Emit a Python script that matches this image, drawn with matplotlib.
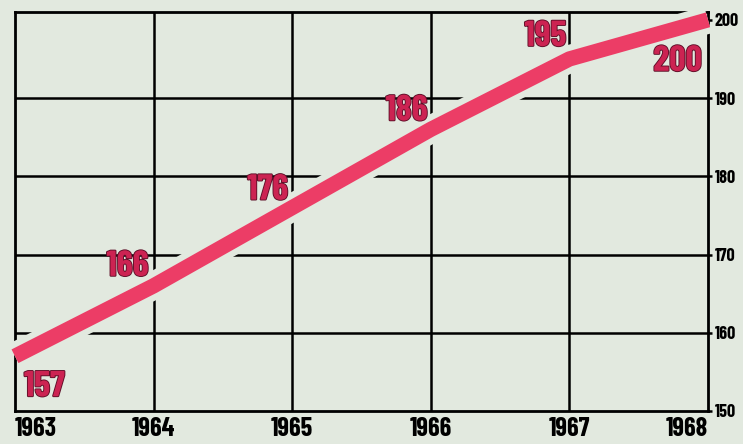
import matplotlib
matplotlib.use("Agg")
import matplotlib.pyplot as plt
import matplotlib.patheffects as pe

years = [1963, 1964, 1965, 1966, 1967, 1968]
values = [157, 166, 176, 186, 195, 200]
y_ticks = [150, 160, 170, 180, 190, 200]

BG = "#e2e9df"
PINK = "#ec3d66"
LABEL = "#cc2352"
FONT = ["Barlow Condensed", "DejaVu Sans"]

fig = plt.figure(figsize=(7.43, 4.44), dpi=100, facecolor=BG)
ax = fig.add_axes([15 / 743, 33 / 444, 693 / 743, 399 / 444], facecolor=BG)

ax.set_xlim(1963, 1968)
ax.set_ylim(150, 201)

# grid
for yv in y_ticks[1:-1]:
    ax.axhline(yv, color="black", lw=1.8, zorder=1)
for xv in years[1:-1]:
    ax.axvline(xv, color="black", lw=1.8, zorder=1)

for sp in ax.spines.values():
    sp.set_linewidth(2.0)
    sp.set_color("black")
    sp.set_zorder(1.5)

# background halo breaks the grid around the line, then the line itself
ax.plot(years, values, color=BG, lw=20, solid_capstyle="butt",
        solid_joinstyle="round", zorder=3, clip_on=False)
ax.plot(years, values, color=PINK, lw=11, solid_capstyle="butt",
        solid_joinstyle="round", zorder=4, clip_on=False)

# value labels, offsets in pixels
px = 0.72
offsets = {
    1963: (9, -15, "left", "top"),
    1964: (-5, 3, "right", "bottom"),
    1965: (-4, 1, "right", "bottom"),
    1966: (-3, 2, "right", "bottom"),
    1967: (-3, 6, "right", "bottom"),
    1968: (-6, -26, "right", "top"),
}
for x, v in zip(years, values):
    dx, dy, ha, va = offsets[x]
    t = ax.annotate(str(v), (x, v), xytext=(dx * px, dy * px),
                    textcoords="offset points", ha=ha, va=va, fontsize=26,
                    fontweight="bold", family=FONT, color=LABEL, zorder=5)
    t.set_path_effects([pe.withStroke(linewidth=1.3, foreground="#5e0f28")])

# ticks
ax.yaxis.tick_right()
ax.set_yticks(y_ticks)
ax.set_yticklabels([str(v) for v in y_ticks], family=FONT, fontweight="bold",
                   fontsize=13)
ax.tick_params(axis="y", length=3, width=1.8, pad=2)

ax.set_xticks(years)
ax.set_xticklabels([str(y) for y in years], family=FONT, fontweight="bold",
                   fontsize=19)
ax.tick_params(axis="x", length=0, pad=4)
xl = ax.get_xticklabels()
xl[0].set_ha("left")
xl[-1].set_ha("right")

fig.savefig("out.png", dpi=100, facecolor=BG)
